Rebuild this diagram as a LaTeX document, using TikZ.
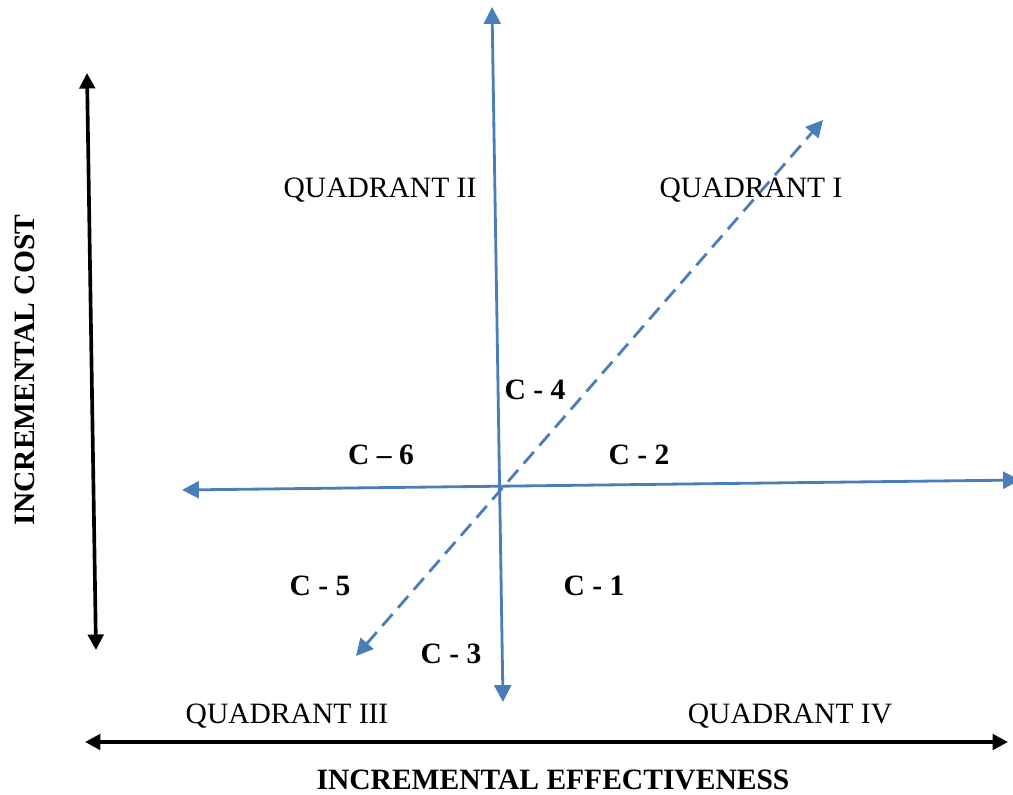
\documentclass[tikz,border=0pt]{standalone}
\usepackage{fontspec}
\setmainfont{Liberation Serif}
\usepackage{tikz}
\usetikzlibrary{positioning}
\usetikzlibrary{arrows.meta}
\definecolor{axisblue}{HTML}{4A7EBB}

\begin{document}
\begin{tikzpicture}[x=0.025cm, y=-0.025cm,
    bluearrow/.style={draw=axisblue, line width=2pt, {Triangle[width=12pt,length=12pt]}-{Triangle[width=12pt,length=12pt]}},
    blackarrow/.style={draw=black, line width=2.6pt, {Triangle[width=11pt,length=11pt]}-{Triangle[width=11pt,length=11pt]}},
    quad/.style={font=\fontsize{21}{25}\selectfont},
    lab/.style={font=\fontsize{21}{25}\selectfont\bfseries}]
    \useasboundingbox (0,0) rectangle (1013,795);

    % axis ends
    \coordinate (top) at (492,7);
    \coordinate (bottom) at (503,702);
    \coordinate (left) at (182,490);
    \coordinate (right) at (1020,480);
    \coordinate (sw) at (356,656);
    \coordinate (ne) at (823,120);

    \coordinate (costtop) at (87,73);
    \coordinate (costbot) at (96,650);
    \coordinate (effleft) at (85,742);
    \coordinate (effright) at (1008,742);

    \draw[bluearrow] (top) -- (bottom);
    \draw[bluearrow] (left) -- (right);
    \draw[bluearrow, dash pattern=on 11pt off 6pt] (sw) -- (ne);

    \draw[blackarrow] (costtop) -- (costbot);
    \draw[blackarrow] (effleft) -- (effright);

    % quadrants
    \node[quad] (q2) at (380,190) {QUADRANT II};
    \node[quad] (q1) at (751,190) {QUADRANT I};
    \node[quad] (q3) at (287,716) {QUADRANT III};
    \node[quad] (q4) at (790,716) {QUADRANT IV};

    % cases
    \node[lab] (c4) at (535,390) {C - 4};
    \node[lab] (c6) at (381,455) {C -- 6};
    \node[lab] (c2) at (639,455) {C - 2};
    \node[lab] (c5) at (320,586) {C - 5};
    \node[lab] (c1) at (594,586) {C - 1};
    \node[lab] (c3) at (451,654) {C - 3};

    \node[lab, rotate=90] (cost) at (25,370) {INCREMENTAL COST};
    \node[lab] (eff) at (553,780) {INCREMENTAL EFFECTIVENESS};
\end{tikzpicture}
\end{document}
